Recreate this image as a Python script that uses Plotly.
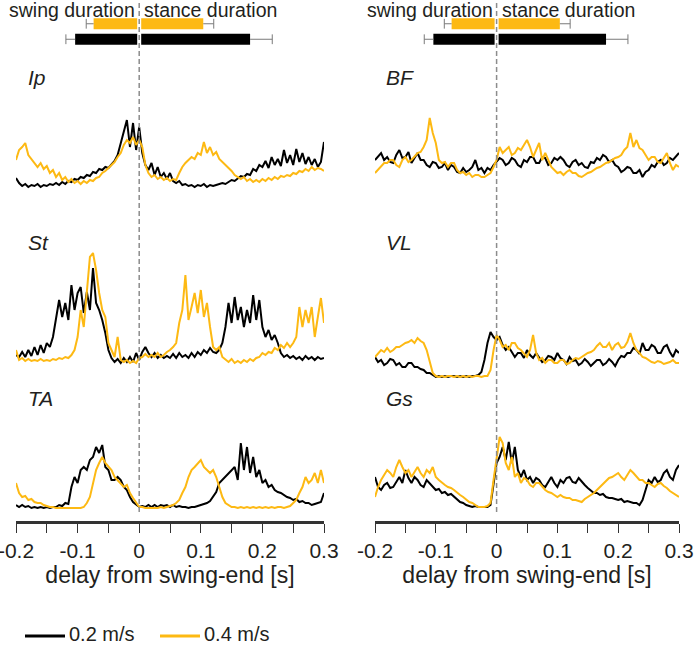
import plotly.graph_objects as go

W, H = 694, 645
def py(p):
    return 1 - p / H
def pxx(p):
    return p / W

# time grid [s]
t = [round(-0.2 + 0.005 * i, 3) for i in range(101)]

speeds = ["0.2 m/s", "0.4 m/s"]
colors = ["#000000", "#FDB913"]

# step-cycle durations [s]
swing_mean = [0.104, 0.074]
swing_sd = [0.015, 0.012]
stance_mean = [0.180, 0.104]
stance_sd = [0.036, 0.017]

# EMG envelopes (a.u.)
ip_02 = [17,12,9,11,8,10,9,11,8,10, 9,11,10,12,10,13,11,14,13,16,
         15,18,17,20,19,23,22,26,25,28, 27,31,34,40,52,62,75,48,72,45,
         68,42,30,25,32,20,28,18,22,16, 22,14,12,14,10,11,9,10,8,10,
         9,11,8,10,9,10,11,12,11,13, 15,14,17,19,18,21,20,26,24,30,
         28,34,27,38,30,36,29,45,32,40, 30,46,33,42,31,38,30,36,28,33, 53]
ip_04 = [35,45,48,52,40,36,33,28,32,26, 29,22,25,18,22,15,18,13,16,12,
         14,11,14,12,15,14,17,18,22,24, 27,30,33,38,42,50,55,52,58,50,
         55,48,30,22,18,20,16,18,15,17, 14,16,15,22,28,32,35,38,36,42,
         40,53,42,48,40,43,36,33,30,28, 24,20,18,16,18,14,16,13,15,13,
         16,14,17,15,18,16,19,18,20,19, 22,21,24,23,26,24,28,25,27,26, 24]
st_02 = [15,13,18,13,20,14,23,15,25,17, 27,23,33,50,70,53,67,50,85,60,
         77,83,57,78,60,102,67,60,50,37, 20,12,8,11,7,12,8,13,8,17,
         10,18,23,17,13,17,12,15,12,14, 12,16,12,17,13,15,12,17,13,18,
         15,20,17,22,18,17,20,27,43,67, 47,73,50,63,43,60,47,75,50,70,
         43,33,40,30,35,27,17,13,15,12, 14,11,13,10,14,11,13,10,13,11, 12]
st_04 = [20,10,12,9,11,9,10,9,11,9, 10,9,11,10,12,11,13,12,15,20,
         33,60,43,77,113,117,100,77,60,53, 27,20,13,33,10,8,10,7,9,7,
         12,13,16,13,15,13,17,13,15,18, 20,23,27,47,60,95,50,63,77,57,
         80,53,67,43,23,20,23,13,10,8, 11,7,9,7,10,8,11,9,12,13,
         17,15,18,17,22,20,25,22,27,23, 27,33,63,43,60,47,63,33,53,72, 47]
ta_02 = [10,8,10,8,9,7,8,7,8,7, 8,7,8,8,10,9,12,11,28,38,
         32,45,48,45,55,58,68,62,70,48, 45,35,35,38,35,28,25,18,13,10,
         8,9,8,10,8,10,8,10,9,10, 8,10,8,9,8,8,7,8,8,9,
         10,11,12,14,18,23,32,35,38,42, 45,48,35,72,45,68,42,58,38,45,
         32,35,28,30,25,23,22,20,18,17, 15,16,13,14,12,12,10,11,12,13, 22]
ta_04 = [32,22,18,19,15,16,13,12,12,10, 9,8,8,7,7,7,7,7,7,7,
         7,7,8,12,18,32,45,52,58,52, 48,45,38,35,32,28,30,22,17,12,
         8,8,7,7,7,7,7,8,7,8, 9,10,12,15,22,28,38,45,48,52,
         55,48,45,42,45,38,28,18,12,10, 8,8,7,8,7,8,7,8,7,8,
         7,8,7,8,7,8,8,7,8,9, 12,15,22,28,38,32,35,42,32,45, 32]
bf_02 = [35,38,42,35,38,33,32,40,45,37, 38,43,32,37,42,35,35,30,28,33,
         32,27,28,32,25,30,28,23,22,27, 23,25,28,35,25,27,22,27,25,30,
         33,37,35,30,32,37,35,30,28,35, 33,38,38,32,32,38,37,30,32,37,
         35,38,35,30,28,33,35,30,32,28, 27,33,32,37,35,40,38,33,35,30,
         28,23,25,28,27,22,22,25,18,23, 25,30,28,33,35,30,32,37,35,38, 42]
bf_04 = [22,25,28,32,32,35,35,30,28,35, 38,33,35,38,42,43,48,55,77,62,
         52,35,32,33,28,32,32,25,22,23, 20,22,18,20,20,18,18,20,22,28,
         35,48,42,45,48,40,42,47,45,50, 55,48,38,45,52,35,42,35,28,25,
         22,23,20,23,25,22,22,19,18,20, 22,23,25,27,28,30,32,33,35,37,
         38,40,45,48,62,48,55,47,45,40, 35,38,38,33,32,37,42,32,25,30, 28]
vl_02 = [23,18,20,15,17,21,20,15,17,13, 13,17,17,13,13,11,10,7,7,5,
         3,4,3,4,3,4,4,3,4,3, 4,3,4,4,5,8,20,37,48,43,
         40,43,35,30,33,28,23,27,27,22, 30,25,22,27,23,18,20,24,23,20,
         27,22,20,16,23,19,20,15,17,21, 18,14,17,20,20,15,17,21,18,14,
         20,24,23,27,27,32,30,26,37,30, 30,35,33,27,27,33,35,28,23,30, 27]
vl_04 = [23,27,30,28,32,28,30,33,33,35, 37,38,40,37,42,39,37,30,17,7,
         4,3,4,3,4,4,3,4,3,4, 3,4,3,4,4,3,4,4,10,30,
         45,40,33,35,30,37,37,32,30,27, 23,30,45,27,20,22,17,20,20,17,
         17,20,20,16,17,20,22,21,23,25, 27,28,30,34,37,33,33,37,30,35,
         37,32,33,38,47,37,30,27,23,22, 20,18,17,19,18,16,17,18,20,17, 17]
gs_02 = [38,28,25,30,32,27,28,33,38,32, 45,37,32,38,35,30,28,35,32,28,
         25,26,22,23,20,21,18,16,13,12, 10,9,8,9,8,8,8,8,10,32,
         52,58,68,55,73,52,68,45,38,45, 35,38,32,37,35,30,28,33,38,32,
         28,35,32,37,38,33,32,37,33,30, 27,24,22,22,20,21,18,17,17,16,
         15,16,13,14,13,12,12,10,15,25, 35,32,38,33,35,42,45,38,35,45, 50]
gs_04 = [18,28,35,40,45,42,38,48,55,48, 42,45,38,43,48,42,38,45,42,48,
         38,35,32,30,28,27,25,22,20,18, 15,13,12,10,8,8,8,9,12,35,
         58,78,72,52,45,58,38,42,32,37, 35,30,28,32,32,28,25,23,22,20,
         18,20,18,17,17,15,15,14,13,16, 18,20,22,25,28,32,35,37,38,40,
         42,38,35,40,45,42,38,35,35,32, 32,30,28,31,32,29,27,24,22,20, 18]

muscles = ["Ip", "St", "TA", "BF", "VL", "Gs"]
emg = {
    "Ip": (ip_02, ip_04), "St": (st_02, st_04), "TA": (ta_02, ta_04),
    "BF": (bf_02, bf_04), "VL": (vl_02, vl_04), "Gs": (gs_02, gs_04),
}
for k, (a, b) in emg.items():
    assert len(a) == 101 and len(b) == 101, (k, len(a), len(b))

tick_vals = [-0.2, -0.15, -0.1, -0.05, 0, 0.05, 0.1, 0.15, 0.2, 0.25, 0.3]
tick_text = ["-0.2", "", "-0.1", "", "0", "", "0.1", "", "0.2", "", "0.3"]

FONT = "Liberation Sans, Arial, Helvetica, sans-serif"
TXT = "#231f20"

# panel geometry in pixels: (column, baseline px, top px, y-range top, label y px)
panels = {
    "Ip": (0, 195, 95, 100, 78),
    "St": (0, 370, 240, 130, 242),
    "TA": (0, 515, 415, 100, 398),
    "BF": (1, 195, 95, 100, 78),
    "VL": (1, 380, 280, 100, 242),
    "Gs": (1, 515, 415, 100, 398),
}
col_dom = [(16, 324), (375, 679)]
label_x = [26, 384]

fig = go.Figure()
layout = dict(
    width=W, height=H, autosize=False,
    margin=dict(l=0, r=0, t=0, b=0, pad=0),
    paper_bgcolor="white", plot_bgcolor="rgba(0,0,0,0)",
    showlegend=False,
    font=dict(family=FONT, size=20, color=TXT),
)

for c in range(2):
    xname = "xaxis" if c == 0 else "xaxis2"
    layout[xname] = dict(
        domain=[pxx(col_dom[c][0]), pxx(col_dom[c][1])],
        range=[-0.2, 0.3], anchor="free", position=py(522),
        automargin=False, ticklabeloverflow="allow",
        showline=True, linewidth=3, linecolor="#333333",
        ticks="outside", ticklen=9, tickwidth=1, tickcolor="#333333",
        tickvals=tick_vals, ticktext=tick_text,
        tickfont=dict(size=21, color=TXT, family=FONT),
        showgrid=False, zeroline=False,
        title=dict(text="delay from swing-end [s]", font=dict(size=23, color=TXT), standoff=5),
    )

annotations = []
shapes = []
for idx, m in enumerate(muscles):
    c, base_px, top_px, ytop, lab_y = panels[m]
    yname = "yaxis" if idx == 0 else f"yaxis{idx+1}"
    yref = "y" if idx == 0 else f"y{idx+1}"
    xref = "x" if c == 0 else "x2"
    layout[yname] = dict(domain=[py(base_px), py(top_px)], range=[0, ytop],
                         anchor=xref, visible=False, fixedrange=True, automargin=False)
    for s in range(2):
        fig.add_trace(go.Scatter(
            x=t, y=emg[m][s], mode="lines", name=speeds[s],
            line=dict(color=colors[s], width=2), xaxis=xref, yaxis=yref,
            legendgroup=speeds[s], showlegend=False,
        ))
    annotations.append(dict(
        text=f"<i>{m}</i>", xref="paper", yref="paper",
        x=pxx(label_x[c]), y=py(lab_y), xanchor="left", yanchor="middle",
        showarrow=False, font=dict(size=21, color=TXT),
    ))

# duration bars on top of each column
for c in range(2):
    yi = 7 + c
    yname = f"yaxis{yi}"
    yref = f"y{yi}"
    xref = "x" if c == 0 else "x2"
    layout[yname] = dict(domain=[py(47), py(16)], range=[-0.5, 1.5],
                         anchor=xref, visible=False, fixedrange=True, automargin=False)
    for s in range(2):
        fig.add_trace(go.Bar(
            orientation="h", y=[s], x=[swing_mean[s]], base=[-swing_mean[s]],
            width=0.72, marker=dict(color=colors[s], line=dict(width=0)),
            xaxis=xref, yaxis=yref, showlegend=False, name=speeds[s] + " swing",
        ))
        fig.add_trace(go.Bar(
            orientation="h", y=[s], x=[stance_mean[s]], base=[0],
            width=0.72, marker=dict(color=colors[s], line=dict(width=0)),
            xaxis=xref, yaxis=yref, showlegend=False, name=speeds[s] + " stance",
        ))
        lo = -swing_mean[s] - swing_sd[s]
        hi = stance_mean[s] + stance_sd[s]
        fig.add_trace(go.Scatter(
            x=[-swing_mean[s], lo, None, stance_mean[s], hi],
            y=[s, s, None, s, s], mode="lines",
            line=dict(color="#7a7a7a", width=1), xaxis=xref, yaxis=yref,
            showlegend=False, hoverinfo="skip",
        ))
        fig.add_trace(go.Scatter(
            x=[lo, hi], y=[s, s], mode="markers",
            marker=dict(symbol="line-ns", size=7, line=dict(color="#7a7a7a", width=1)),
            xaxis=xref, yaxis=yref, showlegend=False, hoverinfo="skip",
        ))
    # white gap between swing and stance bars + dashed swing-end line
    shapes.append(dict(type="line", xref=xref, yref="paper", x0=0, x1=0,
                       y0=py(46), y1=py(17), line=dict(color="white", width=4), layer="above"))
    shapes.append(dict(type="line", xref=xref, yref="paper", x0=0, x1=0,
                       y0=py(512), y1=1, line=dict(color="#8c8c8c", width=1.5, dash="5px,3px"),
                       layer="above"))
    annotations.append(dict(text="swing duration", xref=xref, yref="paper", x=0, y=py(10),
                            xanchor="right", yanchor="middle", xshift=-2, showarrow=False,
                            font=dict(size=19.5, color=TXT)))
    annotations.append(dict(text="stance duration", xref=xref, yref="paper", x=0, y=py(10),
                            xanchor="left", yanchor="middle", xshift=3, showarrow=False,
                            font=dict(size=19.5, color=TXT)))

fig.update_layout(barmode="overlay")

# legend drawn as line samples + labels
leg_x = [(25, 65), (160, 200)]
for s in range(2):
    shapes.append(dict(type="line", xref="paper", yref="paper",
                       x0=pxx(leg_x[s][0]), x1=pxx(leg_x[s][1]), y0=py(636), y1=py(636),
                       line=dict(color=colors[s], width=3)))
    annotations.append(dict(text=speeds[s], xref="paper", yref="paper",
                            x=pxx(leg_x[s][1] + 2), y=py(634), xanchor="left", yanchor="middle",
                            showarrow=False, font=dict(size=20, color=TXT)))

layout["annotations"] = annotations
layout["shapes"] = shapes
fig.update_layout(**layout)

fig.write_html("out.html", config={"displayModeBar": False, "staticPlot": True},
               post_script="document.body.style.margin='0px';document.body.style.overflow='hidden';")
